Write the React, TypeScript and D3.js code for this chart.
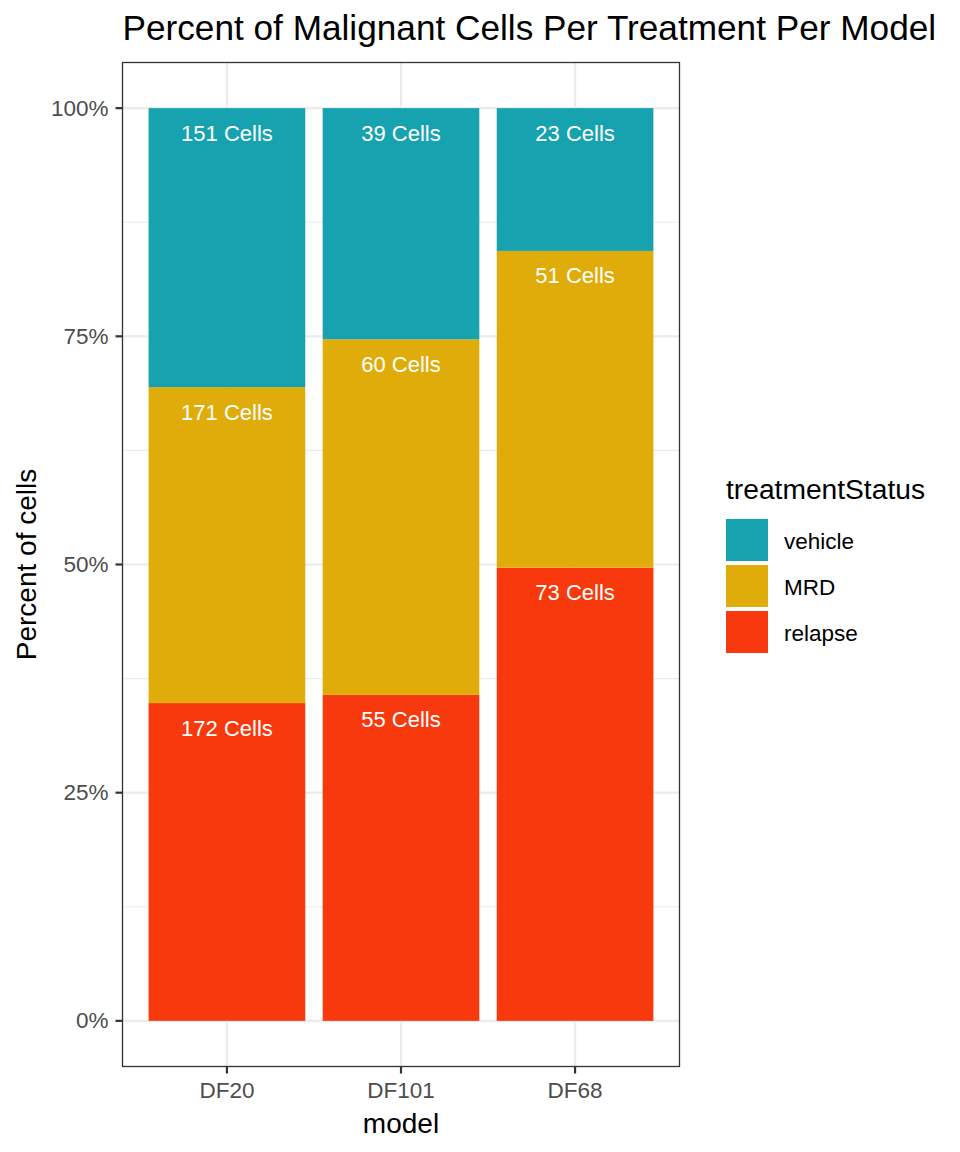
import * as d3 from "d3";

const models = ["DF20", "DF101", "DF68"];
const statuses = ["relapse", "MRD", "vehicle"];
const legendOrder = ["vehicle", "MRD", "relapse"];
const relapseCells = [172, 55, 73];
const mrdCells = [171, 60, 51];
const vehicleCells = [151, 39, 23];
const yTicks = [0, 0.25, 0.5, 0.75, 1];
const yMinor = [0.125, 0.375, 0.625, 0.875];

const COLORS: Record<string, string> = {
  vehicle: "#17A2B0",
  MRD: "#E0AC0A",
  relapse: "#F8390E",
};

const W = 960;
const H = 1152;
const PANEL = { left: 122.5, right: 679.5, top: 62.5, bottom: 1066.5 };
const FONT = "'Liberation Sans', Arial, Helvetica, sans-serif";

export default function App() {
  const counts: Record<string, number[]> = {
    relapse: relapseCells,
    MRD: mrdCells,
    vehicle: vehicleCells,
  };

  // ggplot-like expansion: 5% on continuous y, 0.6 units on discrete x
  const y = d3
    .scaleLinear()
    .domain([-0.05, 1.05])
    .range([PANEL.bottom, PANEL.top]);

  const x = d3
    .scalePoint<string>()
    .domain(models)
    .range([PANEL.left, PANEL.right])
    .padding(0.6);
  const barW = x.step() * 0.9;

  const rows = models.map((m, i) => {
    const row: Record<string, number | string> = { model: m };
    statuses.forEach((s) => (row[s] = counts[s][i]));
    return row;
  });
  const stacked = d3
    .stack<Record<string, number | string>>()
    .keys(statuses)
    .offset(d3.stackOffsetExpand)(rows);

  return (
    <svg width={W} height={H} style={{ display: "block", margin: -8 }} fontFamily={FONT}>
      <rect width={W} height={H} fill="#fff" />

      {/* grid */}
      {yMinor.map((t) => (
        <line key={"mi" + t} x1={PANEL.left} x2={PANEL.right} y1={y(t)} y2={y(t)} stroke="#EBEBEB" strokeWidth={1.1} />
      ))}
      {yTicks.map((t) => (
        <line key={"ma" + t} x1={PANEL.left} x2={PANEL.right} y1={y(t)} y2={y(t)} stroke="#EBEBEB" strokeWidth={2.2} />
      ))}
      {models.map((m) => (
        <line key={"gx" + m} x1={x(m)} x2={x(m)} y1={PANEL.top} y2={PANEL.bottom} stroke="#EBEBEB" strokeWidth={2.2} />
      ))}

      {/* bars */}
      {stacked.map((layer) =>
        layer.map((d, i) => (
          <rect
            key={layer.key + i}
            x={(x(models[i]) as number) - barW / 2}
            y={y(d[1])}
            width={barW}
            height={y(d[0]) - y(d[1])}
            fill={COLORS[layer.key]}
          />
        ))
      )}

      {/* cell count labels */}
      {stacked.map((layer) =>
        layer.map((d, i) => (
          <text
            key={"t" + layer.key + i}
            x={x(models[i])}
            y={y(d[1]) + 25}
            textAnchor="middle"
            dominantBaseline="central"
            fill="#fff"
            fontSize={22}
          >
            {counts[layer.key][i]} Cells
          </text>
        ))
      )}

      {/* panel border */}
      <rect
        x={PANEL.left}
        y={PANEL.top}
        width={PANEL.right - PANEL.left}
        height={PANEL.bottom - PANEL.top}
        fill="none"
        stroke="#333333"
        strokeWidth={1.3}
      />

      {/* y axis */}
      {yTicks.map((t) => (
        <g key={"yt" + t}>
          <line x1={PANEL.left - 7} x2={PANEL.left} y1={y(t)} y2={y(t)} stroke="#333333" strokeWidth={2.2} />
          <text
            x={PANEL.left - 14}
            y={y(t)}
            textAnchor="end"
            dominantBaseline="central"
            fill="#4D4D4D"
            fontSize={22.5}
          >
            {d3.format(".0%")(t)}
          </text>
        </g>
      ))}

      {/* x axis */}
      {models.map((m) => (
        <g key={"xt" + m}>
          <line x1={x(m)} x2={x(m)} y1={PANEL.bottom} y2={PANEL.bottom + 7} stroke="#333333" strokeWidth={2.2} />
          <text x={x(m)} y={PANEL.bottom + 24} textAnchor="middle" dominantBaseline="central" fill="#4D4D4D" fontSize={22.5}>
            {m}
          </text>
        </g>
      ))}

      {/* titles */}
      <text x={PANEL.left} y={40} fontSize={35.2} fill="#000">
        Percent of Malignant Cells Per Treatment Per Model
      </text>
      <text
        x={(PANEL.left + PANEL.right) / 2}
        y={1133}
        textAnchor="middle"
        fontSize={28}
        fill="#000"
      >
        model
      </text>
      <text
        transform={`translate(36,${(PANEL.top + PANEL.bottom) / 2}) rotate(-90)`}
        textAnchor="middle"
        fontSize={28}
        fill="#000"
      >
        Percent of cells
      </text>

      {/* legend */}
      <text x={726} y={499} fontSize={28.2} fill="#000">
        treatmentStatus
      </text>
      {legendOrder.map((s, i) => (
        <g key={"lg" + s} transform={`translate(726,${519 + i * 46})`}>
          <rect width={42} height={42} fill={COLORS[s]} />
          <text x={58} y={22} dominantBaseline="central" fontSize={22.5} fill="#000">
            {s}
          </text>
        </g>
      ))}
    </svg>
  );
}
